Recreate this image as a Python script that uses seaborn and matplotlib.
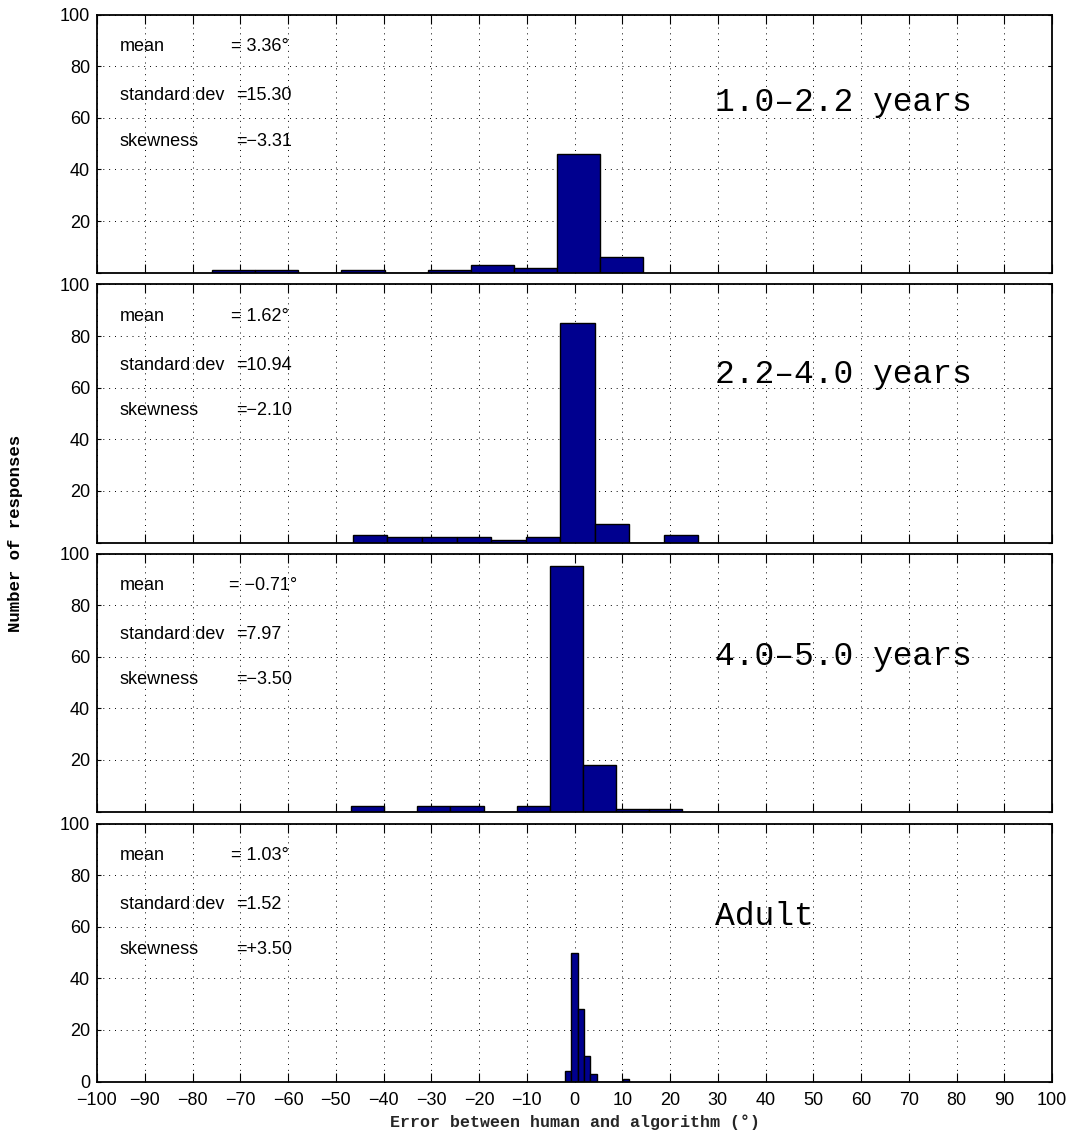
import numpy as np
import pandas as pd
import matplotlib
matplotlib.use("Agg")
import matplotlib.pyplot as plt
import seaborn as sns

# ---- data ----
groups = ["1.0\u20132.2 years", "2.2\u20134.0 years", "4.0\u20135.0 years", "Adult"]

edges_1 = [-75.9, -66.87, -57.84, -48.81, -39.78, -30.75, -21.72, -12.69, -3.66, 5.37, 14.4]
counts_1 = [1, 1, 0, 1, 0, 1, 3, 2, 46, 6]

edges_2 = [-46.4, -39.17, -31.94, -24.71, -17.48, -10.25, -3.02, 4.21, 11.44, 18.67, 25.9]
counts_2 = [3, 2, 2, 2, 1, 2, 85, 7, 0, 3]

edges_3 = [-46.8, -39.86, -32.92, -25.98, -19.04, -12.1, -5.16, 1.78, 8.72, 15.66, 22.6]
counts_3 = [2, 0, 2, 2, 0, 2, 95, 18, 1, 1]

edges_4 = [-2.07, -0.72, 0.63, 1.98, 3.33, 4.68, 6.03, 7.38, 8.73, 10.08, 11.43]
counts_4 = [4, 50, 28, 10, 3, 0, 0, 0, 0, 1]

mean_txt = ["= 3.36\u00b0", "= 1.62\u00b0", "= \u22120.71\u00b0", "= 1.03\u00b0"]
std_txt = ["=15.30", "=10.94", "=7.97", "=1.52"]
skew_txt = ["=\u22123.31", "=\u22122.10", "=\u22123.50", "=+3.50"]

x_ticks = list(range(-100, 101, 10))
y_ticks = [0, 20, 40, 60, 80, 100]

all_edges = [edges_1, edges_2, edges_3, edges_4]
all_counts = [counts_1, counts_2, counts_3, counts_4]

# ---- style ----
sns.set_theme(style="white")
plt.rcParams["font.family"] = ["Liberation Sans", "DejaVu Sans"]
plt.rcParams["text.color"] = "black"
plt.rcParams["xtick.color"] = "black"
plt.rcParams["ytick.color"] = "black"

W, H = 1076, 1140
fig = plt.figure(figsize=(W / 100, H / 100), dpi=100)

left = 97 / W
width = 955 / W
bottoms_px = [272.7, 542.5, 811.5, 1081.5]
height = 258 / H

label_y = [66.0, 65.0, 60.0, 64.0]
bar_color = "#00008F"
mono = ["Liberation Mono", "DejaVu Sans Mono"]


def fmt(v):
    return str(v).replace("-", "\u2212")


axes = []
for i in range(4):
    ax = fig.add_axes([left, 1 - bottoms_px[i] / H, width, height])
    axes.append(ax)
    e = np.array(all_edges[i])
    centers = (e[:-1] + e[1:]) / 2
    df = pd.DataFrame({"err": centers, "n": all_counts[i]})
    sns.histplot(data=df, x="err", weights="n", bins=all_edges[i], ax=ax,
                 color=bar_color, edgecolor="black", linewidth=1.0,
                 alpha=1.0, stat="count")
    ax.set_xlim(-100, 100)
    ax.set_ylim(0, 100)
    ax.set_xticks(x_ticks)
    ax.set_yticks(y_ticks)
    if i < 3:
        ax.set_yticklabels([""] + [str(v) for v in y_ticks[1:]])
        ax.tick_params(labelbottom=False)
    else:
        ax.set_xticklabels([fmt(v) for v in x_ticks])
        ax.set_yticklabels([str(v) for v in y_ticks])
    ax.set_xlabel("")
    ax.set_ylabel("")
    ax.set_axisbelow(True)
    ax.grid(True, linestyle=(0, (1, 5)), color="black", linewidth=0.7)
    for s in ax.spines.values():
        s.set_visible(True)
        s.set_color("black")
        s.set_linewidth(1.3)
    ax.tick_params(axis="x", which="major", direction="in", top=True, bottom=True,
                   length=6.5, width=0.8, color="black", labelsize=13, pad=7.5,
                   labelcolor="black")
    ax.tick_params(axis="y", which="major", direction="in", left=True, right=True,
                   length=3, width=0.8, color="black", labelsize=13, pad=5,
                   labelcolor="black")

    # stats text
    ax.text(-95.2, 87.5, "mean", fontsize=13, va="center", ha="left")
    ax.text(-72.3 if i == 2 else -71.9, 87.5, mean_txt[i], fontsize=13, va="center", ha="left")
    ax.text(-95.2, 68.5, "standard dev", fontsize=13, va="center", ha="left")
    ax.text(-70.8, 68.5, std_txt[i], fontsize=13, va="center", ha="left")
    ax.text(-95.2, 51.0, "skewness", fontsize=13, va="center", ha="left")
    ax.text(-70.8, 51.0, skew_txt[i], fontsize=13, va="center", ha="left")

    ax.text(29.4, label_y[i], groups[i], family=mono, fontsize=23.8,
            va="center", ha="left")

axes[3].set_xlabel("Error between human and algorithm (\u00b0)", family=mono,
                   fontweight="bold", fontsize=12)
axes[3].xaxis.set_label_coords(0.5, (1081.5 - 1122) / 258)
axes[3].xaxis.label.set_va("center")

fig.text(16 / W, 1 - 533 / H, "Number of responses", family=mono, fontweight="bold",
         fontsize=12.5, rotation=90, ha="center", va="center")

fig.savefig("out.png", dpi=100)
